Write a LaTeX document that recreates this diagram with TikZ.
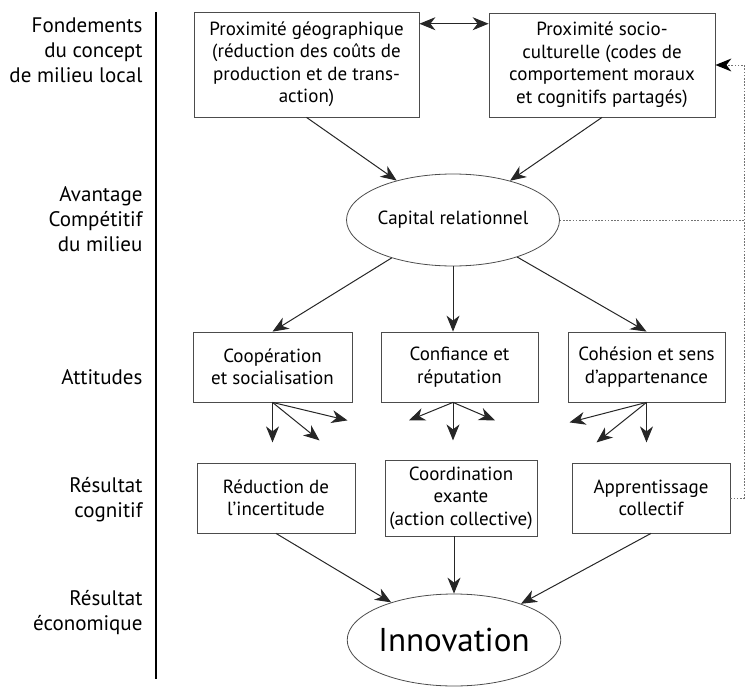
\documentclass[tikz,border=0pt]{standalone}
\usepackage{fontspec}
\setmainfont{PT Sans}
\usetikzlibrary{shapes.geometric,arrows.meta}

\begin{document}
\begin{tikzpicture}[x=1pt,y=-1pt,
  tip/.tip={Stealth[length=16pt,width=13pt,inset=5pt]},
  box/.style={draw=black!70,line width=0.8pt,rectangle,align=center,inner sep=0pt,
              font=\fontsize{19}{22.5}\selectfont},
  oval/.style={draw=black!70,line width=0.8pt,ellipse,inner sep=0pt,align=center},
  lvl/.style={anchor=east,align=right,font=\fontsize{21}{25}\selectfont},
  arr/.style={draw=black!85,line width=1pt,-tip},
  darr/.style={draw=black!85,line width=1pt,tip-tip},
  fb/.style={draw=black!55,line width=0.8pt,dash pattern=on 1.6pt off 1.6pt}]

\useasboundingbox (0,0) rectangle (746,687);

% level labels and separator
\node[lvl] (l1) at (146,50) {Fondements\\du concept\\de milieu local};
\node[lvl] (l2) at (146,219) {Avantage\\Compétitif\\du milieu};
\node[lvl] (l3) at (146,377) {Attitudes};
\node[lvl] (l4) at (146,500) {Résultat \\cognitif};
\node[lvl] (l5) at (146,613) {Résultat\\économique};
\coordinate (septop) at (156,12);
\coordinate (sepbot) at (156,679);
\draw[line width=1.4pt] (septop) -- (sepbot);

% foundations
\node[box,minimum width=225,minimum height=105] (p1) at (306.5,64.5)
  {Proximité géographique\\(réduction des coûts de\\production et de trans-\\action)};
\node[box,minimum width=226,minimum height=104] (p2) at (602,65)
  {Proximité socio-\\culturelle (codes de\\comportement moraux\\et cognitifs partagés)};

% relational capital
\node[oval,minimum width=180,minimum height=92,font=\fontsize{19}{22}\selectfont] (cap) at (453,220)
  {Capital relationnel};

% attitudes
\node[box,minimum width=159,minimum height=70] (coop) at (272.5,367) {Coopération\\et socialisation};
\node[box,minimum width=157,minimum height=70] (conf) at (459.5,367) {Confiance et\\réputation};
\node[box,minimum width=157,minimum height=70] (coh) at (646.5,367) {Cohésion et sens\\d’appartenance};

% cognitive outcomes
\node[box,minimum width=158,minimum height=70] (red) at (276,498) {Réduction de\\l’incertitude};
\node[box,minimum width=152,minimum height=76] (coord) at (461,498) {Coordination\\exante\\(action collective)};
\node[box,minimum width=158,minimum height=70] (app) at (651,498) {Apprentissage\\collectif};

% economic outcome
\node[oval,minimum width=206,minimum height=92,font=\fontsize{33}{36}\selectfont] (inn) at (454,640) {Innovation};

% connectors
\draw[darr] (p1.east |- p2.160) -- (p2.160);
\draw[arr] (p1.south) -- (cap);
\draw[arr] (p2.south) -- (cap);

\draw[arr] (cap) -- (coop.north);
\draw[arr] (cap.south) -- (cap.south |- conf.north);
\draw[arr] (cap) -- (coh.north);

\draw[arr] (coop.south) -- ++(0,40);
\draw[arr] (coop.south) -- ++(47,38);
\draw[arr] (coop.south) -- ++(75,18);

\coordinate (cfo) at (cap.south |- conf.south);
\draw[arr] (cfo) -- ++(-44,18);
\draw[arr] (cfo) -- ++(0,38);
\draw[arr] (cfo) -- ++(42,18);

\draw[arr] (coh.south) -- ++(-77,20);
\draw[arr] (coh.south) -- ++(-50,40);
\draw[arr] (coh.south) -- ++(0,40);

\draw[arr] (red.south) -- (inn);
\draw[arr] (inn.north |- coord.south) -- (inn.north);
\draw[arr] (app.south) -- (inn);

% feedback loop
\coordinate (fbr) at (744,65);
\draw[fb] (cap.east) -- (cap.east -| fbr);
\draw[fb,-{Stealth[length=16pt,width=13pt,inset=5pt,color=black,fill=black,line width=0pt]}] (app.east) -| (fbr) -- (p2.east);
\end{tikzpicture}
\end{document}
